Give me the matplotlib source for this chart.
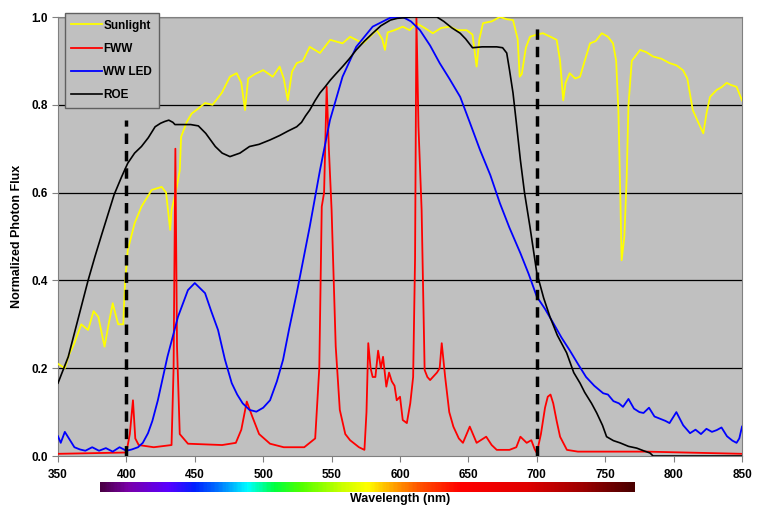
import numpy as np
import matplotlib.pyplot as plt
from matplotlib.colors import LinearSegmentedColormap

plt.rcParams['font.family'] = ['Liberation Sans', 'DejaVu Sans']
plt.rcParams['font.weight'] = 'bold'

# Sunlight
sun_wl = [350, 355, 358, 362, 367, 372, 376, 379.5, 384, 387, 390, 394, 397.7, 399, 401, 406, 411,
          418.5, 425.8, 429, 432, 433, 436, 439, 440, 444, 447.7, 452, 457.5, 463, 469.7, 475.7,
          480.6, 484, 486.7, 489, 494, 500, 507, 512, 515, 518, 521, 524.5, 529, 534, 541.5, 549,
          558, 563.5, 573, 578, 583, 587, 589, 591, 596, 602, 607, 612, 618, 624, 630, 636.5,
          642, 648.7, 653, 656, 658, 660.7, 667, 673, 678, 682.6, 686, 687.5, 689, 692, 695,
          700, 704.5, 710, 714.5, 717, 719.3, 721, 724, 728, 731.6, 735, 738.9, 743, 747.5,
          752, 755.7, 758, 759.6, 761, 762, 764, 765.7, 767, 769.4, 775.5, 780, 785, 791, 797,
          802, 806.8, 810, 814, 818, 821.7, 824, 826.6, 831.5, 835, 838.8, 842, 846, 850]
sun_val = [0.21, 0.20, 0.23, 0.257, 0.30, 0.287, 0.33, 0.317, 0.249, 0.30, 0.348, 0.30, 0.30,
           0.394, 0.469, 0.53, 0.568, 0.606, 0.613, 0.60, 0.515, 0.56, 0.60, 0.65, 0.727, 0.76,
           0.78, 0.79, 0.804, 0.80, 0.827, 0.864, 0.872, 0.85, 0.788, 0.86, 0.87, 0.879, 0.864,
           0.887, 0.86, 0.81, 0.875, 0.895, 0.90, 0.932, 0.918, 0.948, 0.94, 0.955, 0.94, 0.955,
           0.97, 0.95, 0.925, 0.965, 0.97, 0.978, 0.97, 0.986, 0.975, 0.963, 0.975, 0.978, 0.97,
           0.97, 0.96, 0.887, 0.95, 0.986, 0.99, 1.0, 0.995, 0.993, 0.95, 0.864, 0.87, 0.93,
           0.955, 0.96, 0.963, 0.955, 0.948, 0.90, 0.81, 0.85, 0.872, 0.86, 0.864, 0.90, 0.94,
           0.945, 0.963, 0.955, 0.94, 0.90, 0.788, 0.60, 0.446, 0.50, 0.636, 0.80, 0.90, 0.925,
           0.92, 0.91, 0.905, 0.895, 0.89, 0.879, 0.86, 0.788, 0.76, 0.735, 0.78, 0.818, 0.834,
           0.84, 0.85, 0.845, 0.841, 0.81]

# FWW
fww_wl = [350, 400, 402.5, 404.8, 406.5, 409, 420, 433, 434.5, 435.8, 437, 439, 445, 470, 480,
          484, 488, 492, 497, 505, 515, 530, 538, 541, 542.8, 544.5, 546.4, 548, 550, 553, 556,
          560, 563.5, 570, 574, 575.5, 576.8, 578.5, 580, 582, 584, 586, 587.6, 590, 592, 594,
          596, 597.6, 600, 602, 605, 607.5, 609.6, 611, 612, 613.5, 615.8, 618, 620, 622, 627,
          629, 630.5, 633, 636, 639, 643, 646, 651, 656, 663, 667, 670.7, 680, 685, 688, 692.6,
          696, 698.5, 700, 703, 706, 708, 710, 712, 714.5, 717, 722, 730, 780, 850]
fww_val = [0.005, 0.008, 0.05, 0.127, 0.04, 0.025, 0.02, 0.025, 0.20, 0.70, 0.25, 0.05, 0.028,
           0.025, 0.03, 0.06, 0.124, 0.09, 0.05, 0.028, 0.02, 0.02, 0.04, 0.20, 0.568, 0.60,
           0.841, 0.70, 0.56, 0.25, 0.105, 0.05, 0.036, 0.02, 0.014, 0.10, 0.257, 0.20, 0.18,
           0.18, 0.24, 0.20, 0.226, 0.158, 0.19, 0.17, 0.16, 0.127, 0.135, 0.082, 0.075, 0.12,
           0.18, 0.45, 1.0, 0.75, 0.56, 0.196, 0.18, 0.173, 0.19, 0.20, 0.257, 0.18, 0.10, 0.067,
           0.04, 0.03, 0.067, 0.03, 0.044, 0.025, 0.014, 0.014, 0.02, 0.044, 0.03, 0.036, 0.015,
           0.007, 0.05, 0.11, 0.135, 0.14, 0.12, 0.08, 0.044, 0.014, 0.01, 0.01, 0.005]

# WW LED
led_wl = [350, 352, 355, 358, 362, 366, 370, 375, 380, 385, 390, 395, 400, 404, 408.5, 412,
          415.8, 419, 423, 430, 437.7, 445, 450, 457.5, 462, 467, 472, 477, 481, 485, 490, 495,
          500, 505, 510, 514.5, 519, 524.5, 534, 541.5, 548.8, 558, 568, 580, 592.7, 602, 608,
          614.6, 622, 629, 636, 644, 651, 658.5, 666, 673, 680, 688, 694, 700, 706, 712, 718, 724,
          730, 736, 742, 748.5, 752, 756, 760, 763, 767, 771, 775, 778, 782, 786, 790, 794, 797,
          802, 807, 812, 816, 820, 824, 828, 831.5, 835, 839, 843, 846, 848, 850]
led_val = [0.045, 0.03, 0.055, 0.04, 0.02, 0.015, 0.012, 0.02, 0.012, 0.018, 0.01, 0.02, 0.012,
           0.015, 0.02, 0.03, 0.052, 0.08, 0.127, 0.226, 0.317, 0.378, 0.394, 0.371, 0.33,
           0.287, 0.22, 0.166, 0.14, 0.12, 0.105, 0.101, 0.11, 0.127, 0.17, 0.219, 0.29, 0.371,
           0.522, 0.651, 0.765, 0.864, 0.932, 0.978, 0.998, 1.0, 0.99, 0.97, 0.935, 0.895, 0.86,
           0.818, 0.76, 0.697, 0.64, 0.576, 0.52, 0.462, 0.415, 0.363, 0.335, 0.303, 0.27, 0.241,
           0.21, 0.18, 0.16, 0.143, 0.14, 0.125, 0.12, 0.112, 0.13, 0.108, 0.10, 0.098, 0.11,
           0.09, 0.085, 0.08, 0.075, 0.10, 0.07, 0.052, 0.06, 0.05, 0.062, 0.055, 0.059, 0.065,
           0.045, 0.035, 0.03, 0.04, 0.067]

# ROE
roe_wl = [350, 357.5, 362, 367, 372, 377, 382, 386.8, 391, 396.5, 401, 406, 411, 416, 421, 425,
          428, 431, 434, 435.5, 447, 452.6, 458, 465, 470, 475.7, 483, 490, 497, 505, 512, 518,
          524.5, 528, 531, 534, 538, 541.5, 545, 549, 553, 558, 563, 568, 574, 580, 586, 593, 598,
          602, 608, 615, 621, 627, 632, 638, 644, 648, 653, 660, 670.7, 675, 678, 680, 682.6, 685,
          688, 691, 695, 700, 705, 709.6, 715, 721.8, 727, 731.6, 735, 740, 743.8, 748, 751, 756,
          760.8, 767, 773, 778, 782.7, 785, 850]
roe_val = [0.166, 0.226, 0.28, 0.34, 0.40, 0.454, 0.505, 0.553, 0.595, 0.636, 0.667, 0.69, 0.705,
           0.725, 0.75, 0.758, 0.762, 0.765, 0.76, 0.755, 0.755, 0.752, 0.735, 0.705, 0.69, 0.682,
           0.69, 0.705, 0.71, 0.72, 0.73, 0.74, 0.75, 0.76, 0.775, 0.788, 0.81, 0.827, 0.84,
           0.856, 0.87, 0.887, 0.905, 0.925, 0.945, 0.963, 0.98, 0.993, 0.997, 0.998, 1.0, 1.0,
           1.0, 1.0, 0.99, 0.975, 0.963, 0.95, 0.93, 0.932, 0.932, 0.93, 0.918, 0.88, 0.827,
           0.76, 0.674, 0.6, 0.522, 0.417, 0.36, 0.317, 0.275, 0.235, 0.19, 0.166, 0.145, 0.12,
           0.098, 0.07, 0.044, 0.035, 0.03, 0.022, 0.018, 0.012, 0.007, 0.0, 0.0]

yticks = [0.0, 0.2, 0.4, 0.6, 0.8, 1.0]
xticks = [350, 400, 450, 500, 550, 600, 650, 700, 750, 800, 850]

fig = plt.figure(figsize=(7.66, 5.09), dpi=100)
ax = fig.add_axes([0.0757, 0.1041, 0.893, 0.8625])
ax.set_facecolor('#c0c0c0')
for y in yticks[1:]:
    ax.axhline(y, color='black', lw=0.9, zorder=1)

ax.plot(sun_wl, sun_val, color='#ffff00', lw=1.3, label='Sunlight', zorder=3)
ax.plot(fww_wl, fww_val, color='#ff0000', lw=1.3, label='FWW', zorder=4)
ax.plot(led_wl, led_val, color='#0000ff', lw=1.3, label='WW LED', zorder=5)
ax.plot(roe_wl, roe_val, color='black', lw=1.2, label='ROE', zorder=6)

ax.plot([400, 400], [0, 0.765], color='black', lw=2.5, ls=(0, (3, 2)), zorder=7)
ax.plot([700, 700], [0, 0.985], color='black', lw=2.5, ls=(0, (3, 2)), zorder=7)

ax.set_xlim(350, 850)
ax.set_ylim(0, 1.0)
ax.set_xticks(xticks)
ax.set_yticks(yticks)
ax.set_yticklabels(['%.1f' % v for v in yticks])
ax.tick_params(labelsize=8.5, length=4, color='#808080')
ax.tick_params(axis='x', pad=5)
ax.tick_params(axis='y', pad=3.5)
for s in ax.spines.values():
    s.set_color('#808080')

ax.set_ylabel('Normalized Photon Flux', fontsize=9, fontweight='bold')
ax.set_xlabel('Wavelength (nm)', fontsize=9, fontweight='bold')
ax.yaxis.set_label_coords(-0.051, 0.5)
ax.xaxis.set_label_coords(0.5, -0.084)

leg = ax.legend(loc='upper left', bbox_to_anchor=(0.0102, 1.009), fontsize=8.5, handlelength=2.6,
                frameon=True, fancybox=False, labelspacing=0.95, borderpad=0.55,
                handletextpad=0.1, borderaxespad=0)
leg.get_frame().set_facecolor('#c0c0c0')
leg.get_frame().set_edgecolor('#606060')
leg.get_frame().set_alpha(1)

# visible spectrum strip under the axis
spec_nm = [380, 400, 430, 450, 470, 490, 510, 530, 560, 580, 600, 620, 650, 700, 740, 780]
spec_col = ['#4b0046', '#7a00a8', '#5a00ff', '#0020ff', '#0080ff', '#00ffff', '#00ff40',
            '#50ff00', '#c8ff00', '#ffff00', '#ffa000', '#ff5000', '#ff0000', '#e00000',
            '#a00000', '#4a0000']
pos = [(w - 380) / 400 for w in spec_nm]
cmap = LinearSegmentedColormap.from_list('spec', list(zip(pos, spec_col)))
cax = fig.add_axes([100 / 766, 1 - 492 / 509, 535 / 766, 10 / 509])
cax.imshow(np.linspace(0, 1, 400)[None, :], aspect='auto', cmap=cmap)
cax.axis('off')

fig.savefig('out.png', dpi=100)
